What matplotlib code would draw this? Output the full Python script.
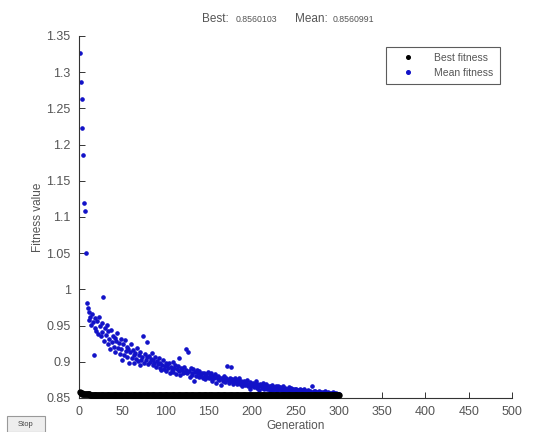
import matplotlib
matplotlib.use("Agg")
import matplotlib.pyplot as plt
from matplotlib.patches import Rectangle

plt.rcParams['font.family'] = ['Liberation Sans', 'DejaVu Sans']

# ---- data ----
mean_fitness = [
    1.326, 1.286, 1.263, 1.223, 1.185, 1.120, 1.108, 1.050,
    0.981, 0.975, 0.969, 0.958, 0.962, 0.951, 0.966, 0.955, 0.909, 0.947, 0.960, 0.943,
    0.956, 0.938, 0.962, 0.949, 0.935, 0.953, 0.941, 0.990, 0.929, 0.946,
    0.937, 0.951, 0.925, 0.942, 0.931, 0.918, 0.944, 0.927, 0.936, 0.921,
    0.933, 0.914, 0.929, 0.940, 0.919, 0.926, 0.911, 0.931, 0.917, 0.903,
    0.924, 0.909, 0.930, 0.915, 0.921, 0.907, 0.918, 0.899, 0.913, 0.925,
    0.905, 0.916, 0.910, 0.898, 0.912, 0.904, 0.919, 0.901, 0.909, 0.896,
    0.914, 0.903, 0.907, 0.935, 0.899, 0.911, 0.902, 0.906, 0.928, 0.897,
    0.908, 0.900, 0.904, 0.912, 0.895, 0.903, 0.898, 0.906, 0.893, 0.901,
    0.897, 0.905, 0.892, 0.899, 0.888, 0.896, 0.902, 0.890, 0.894, 0.899,
    0.887, 0.895, 0.891, 0.898, 0.884, 0.893, 0.889, 0.900, 0.886, 0.892,
    0.896, 0.883, 0.890, 0.894, 0.887, 0.905, 0.882, 0.891, 0.888, 0.885,
    0.893, 0.886, 0.917, 0.889, 0.884, 0.913, 0.887, 0.879, 0.891, 0.885,
    0.882, 0.890, 0.873, 0.886, 0.881, 0.888, 0.884, 0.879, 0.887, 0.883,
    0.880, 0.885, 0.878, 0.884, 0.881, 0.876, 0.883, 0.879, 0.886, 0.877,
    0.882, 0.878, 0.885, 0.874, 0.880, 0.877, 0.883, 0.871, 0.879, 0.876,
    0.881, 0.875, 0.878, 0.868, 0.877, 0.874, 0.880, 0.876, 0.872, 0.878,
    0.894, 0.875, 0.871, 0.877, 0.893, 0.873, 0.876, 0.870, 0.874, 0.878,
    0.872, 0.875, 0.869, 0.873, 0.877, 0.870, 0.874, 0.867, 0.872, 0.869,
    0.873, 0.868, 0.871, 0.875, 0.866, 0.870, 0.862, 0.872, 0.867, 0.869,
    0.871, 0.865, 0.868, 0.873, 0.864, 0.869, 0.866, 0.861, 0.870, 0.867,
    0.864, 0.868, 0.871, 0.863, 0.866, 0.869, 0.862, 0.867, 0.865, 0.860,
    0.866, 0.863, 0.868, 0.861, 0.865, 0.862, 0.867, 0.864, 0.860, 0.866,
    0.863, 0.865, 0.861, 0.864, 0.859, 0.866, 0.862, 0.864, 0.860, 0.863,
    0.861, 0.865, 0.859, 0.862, 0.864, 0.860, 0.863, 0.858, 0.862, 0.860,
    0.863, 0.859, 0.861, 0.858, 0.862, 0.860, 0.857, 0.861, 0.859, 0.862,
    0.858, 0.860, 0.857, 0.861, 0.859, 0.856, 0.860, 0.858, 0.866, 0.857,
    0.859, 0.857, 0.860, 0.856, 0.858, 0.857, 0.859, 0.856, 0.858, 0.857,
    0.856, 0.858, 0.857, 0.859, 0.856, 0.857, 0.858, 0.856, 0.857, 0.856,
    0.857, 0.856, 0.858, 0.856, 0.857, 0.856, 0.857, 0.856, 0.856, 0.856,
]

best_fitness = [
    0.8580, 0.8570, 0.8565, 0.8560, 0.8558, 0.8555, 0.8553, 0.8552, 0.8550, 0.8550,
    0.8549, 0.8549, 0.8548, 0.8548, 0.8547, 0.8547, 0.8547, 0.8546, 0.8546, 0.8546,
    0.8546, 0.8545, 0.8545, 0.8545, 0.8545, 0.8545, 0.8544, 0.8544, 0.8544, 0.8544,
    0.8544, 0.8544, 0.8543, 0.8543, 0.8543, 0.8543, 0.8543, 0.8543, 0.8543, 0.8543,
    0.8542, 0.8542, 0.8542, 0.8542, 0.8542, 0.8542, 0.8542, 0.8542, 0.8542, 0.8542,
    0.8542, 0.8542, 0.8542, 0.8542, 0.8542, 0.8541, 0.8541, 0.8541, 0.8541, 0.8541,
    0.8541, 0.8541, 0.8541, 0.8541, 0.8541, 0.8541, 0.8541, 0.8541, 0.8541, 0.8541,
    0.8541, 0.8541, 0.8541, 0.8541, 0.8541, 0.8541, 0.8541, 0.8541, 0.8541, 0.8541,
    0.8541, 0.8541, 0.8541, 0.8541, 0.8541, 0.8541, 0.8541, 0.8541, 0.8541, 0.8541,
    0.8541, 0.8541, 0.8541, 0.8541, 0.8541, 0.8541, 0.8541, 0.8541, 0.8541, 0.8541,
    0.8541, 0.8541, 0.8541, 0.8541, 0.8541, 0.8541, 0.8541, 0.8541, 0.8541, 0.8541,
    0.8541, 0.8541, 0.8541, 0.8541, 0.8541, 0.8541, 0.8541, 0.8541, 0.8541, 0.8541,
    0.8541, 0.8541, 0.8541, 0.8541, 0.8541, 0.8541, 0.8541, 0.8541, 0.8541, 0.8541,
    0.8541, 0.8541, 0.8541, 0.8541, 0.8541, 0.8541, 0.8541, 0.8541, 0.8541, 0.8541,
    0.8541, 0.8541, 0.8541, 0.8541, 0.8541, 0.8541, 0.8541, 0.8541, 0.8541, 0.8541,
    0.8540, 0.8540, 0.8540, 0.8540, 0.8540, 0.8540, 0.8540, 0.8540, 0.8540, 0.8540,
    0.8540, 0.8540, 0.8540, 0.8540, 0.8540, 0.8540, 0.8540, 0.8540, 0.8540, 0.8540,
    0.8540, 0.8540, 0.8540, 0.8540, 0.8540, 0.8540, 0.8540, 0.8540, 0.8540, 0.8540,
    0.8540, 0.8540, 0.8540, 0.8540, 0.8540, 0.8540, 0.8540, 0.8540, 0.8540, 0.8540,
    0.8540, 0.8540, 0.8540, 0.8540, 0.8540, 0.8540, 0.8540, 0.8540, 0.8540, 0.8540,
    0.8540, 0.8540, 0.8540, 0.8540, 0.8540, 0.8540, 0.8540, 0.8540, 0.8540, 0.8540,
    0.8540, 0.8540, 0.8540, 0.8540, 0.8540, 0.8540, 0.8540, 0.8540, 0.8540, 0.8540,
    0.8540, 0.8540, 0.8540, 0.8540, 0.8540, 0.8540, 0.8540, 0.8540, 0.8540, 0.8540,
    0.8540, 0.8540, 0.8540, 0.8540, 0.8540, 0.8540, 0.8540, 0.8540, 0.8540, 0.8540,
    0.8540, 0.8540, 0.8540, 0.8540, 0.8540, 0.8540, 0.8540, 0.8540, 0.8540, 0.8540,
    0.8540, 0.8540, 0.8540, 0.8540, 0.8540, 0.8540, 0.8540, 0.8540, 0.8540, 0.8540,
    0.8540, 0.8540, 0.8540, 0.8540, 0.8540, 0.8540, 0.8540, 0.8540, 0.8540, 0.8540,
    0.8540, 0.8540, 0.8540, 0.8540, 0.8540, 0.8540, 0.8540, 0.8540, 0.8540, 0.8540,
    0.8540, 0.8540, 0.8540, 0.8540, 0.8540, 0.8540, 0.8540, 0.8540, 0.8540, 0.8540,
    0.8540, 0.8540, 0.8540, 0.8540, 0.8540, 0.8540, 0.8540, 0.8540, 0.8540, 0.8540,
]

generations = list(range(1, len(mean_fitness) + 1))
best_generations = list(range(1, len(best_fitness) + 1))

x_ticks = [0, 50, 100, 150, 200, 250, 300, 350, 400, 450, 500]
y_ticks = [0.85, 0.9, 0.95, 1, 1.05, 1.1, 1.15, 1.2, 1.25, 1.3, 1.35]
y_tick_labels = ["0.85", "0.9", "0.95", "1", "1.05", "1.1", "1.15", "1.2", "1.25", "1.3", "1.35"]

title_best = "0.8560103"
title_mean = "0.8560991"

# ---- figure ----
fig = plt.figure(figsize=(5.33, 4.32), dpi=100)
fig.patch.set_facecolor("white")
ax = fig.add_axes([79 / 533, 1 - 398 / 432, (512 - 79) / 533, (398 - 36) / 432])

ax.plot(best_generations, best_fitness, linestyle="none", marker="o", ms=3.6,
        color="black", mec="black", label="Best fitness", zorder=3, clip_on=False)
ax.plot(generations, mean_fitness, linestyle="none", marker="o", ms=2.3,
        color="#1212c8", mec="#1212c8", label="Mean fitness", zorder=2)

ax.set_xlim(0, 500)
ax.set_ylim(0.85, 1.35)
ax.set_xticks(x_ticks)
ax.set_yticks(y_ticks)
ax.set_yticklabels(y_tick_labels)
ax.spines["top"].set_visible(False)
ax.spines["right"].set_visible(False)
for s in ("left", "bottom"):
    ax.spines[s].set_linewidth(0.8)
    ax.spines[s].set_color("#333333")
ax.tick_params(direction="in", length=4, width=0.7, labelsize=9,
               labelcolor="#555555", color="#333333")
ax.tick_params(axis="x", pad=6)
ax.tick_params(axis="y", pad=6)

ax.set_xlabel("Generation", fontsize=8.5, color="#555555", labelpad=1)
ax.set_ylabel("Fitness value", fontsize=8.5, color="#555555", labelpad=2)

leg = ax.legend(loc="upper right", bbox_to_anchor=(0.984, 0.985), fontsize=7.5,
                frameon=True, fancybox=False, edgecolor="#333333",
                handlelength=3.0, borderpad=0.6,
                labelspacing=0.5, handletextpad=1.0)
leg.get_frame().set_linewidth(0.8)
for h in leg.legend_handles:
    h.set_markersize(2.6)
for t in leg.get_texts():
    t.set_color("#555555")

# title in mixed sizes (MATLAB style)
fig.text(202 / 533, 1 - 18.5 / 432, "Best:", fontsize=8.5, color="#555555", va="center", ha="left")
fig.text(236 / 533, 1 - 19.5 / 432, title_best, fontsize=6.3, color="#555555", va="center", ha="left")
fig.text(295 / 533, 1 - 18.5 / 432, "Mean:", fontsize=8.5, color="#555555", va="center", ha="left")
fig.text(333 / 533, 1 - 19.5 / 432, title_mean, fontsize=6.3, color="#555555", va="center", ha="left")

# Stop button
btn = Rectangle((7 / 533, 0), 38 / 533, 16 / 432, transform=fig.transFigure,
                facecolor="#eeeeee", edgecolor="#999999", linewidth=0.8)
fig.patches.append(btn)
fig.text(26 / 533, 7 / 432, "Stop", fontsize=5.5, color="#444444", ha="center", va="center")

fig.savefig("out.png", dpi=100)
